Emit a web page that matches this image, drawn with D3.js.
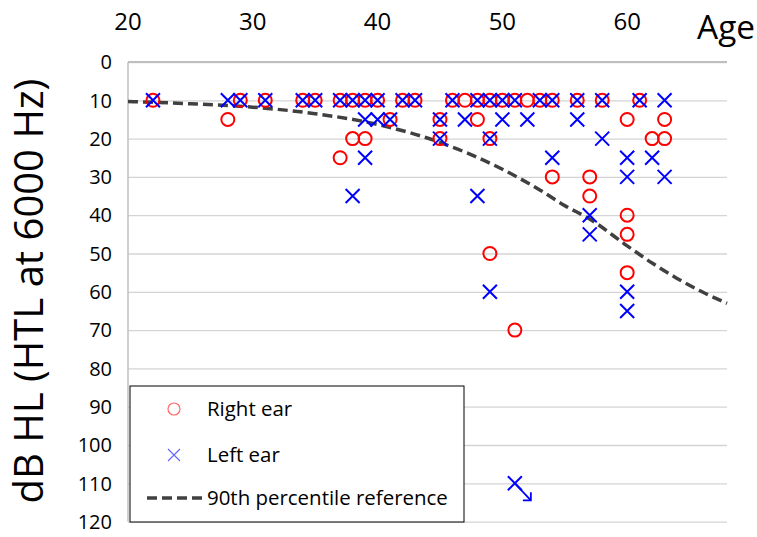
<!DOCTYPE html>
<html>
<head>
<meta charset="utf-8">
<script src="https://cdn.jsdelivr.net/npm/d3@7"></script>
<style>
  body { margin: 0; background: #fff; }
  svg text { font-family: "Open Sans", "Noto Sans", sans-serif; fill: #000; }
</style>
</head>
<body>
<svg id="chart" width="757" height="537"></svg>
<script>
// ages on the top axis, hearing levels down the side
var age_ticks = [20, 30, 40, 50, 60];
var db_ticks = [0, 10, 20, 30, 40, 50, 60, 70, 80, 90, 100, 110, 120];

// right ear (circles)
var right_age = [22, 28, 29, 31, 34, 35, 37, 37, 38, 38, 39, 39, 40, 41, 42, 43, 45, 45, 46, 47, 48, 48, 49, 49,
                 49, 50, 51, 51, 52, 53, 54, 54, 56, 57, 57, 58, 60, 60, 60, 60, 61, 62, 63, 63];
var right_db  = [10, 15, 10, 10, 10, 10, 10, 25, 10, 20, 10, 20, 10, 15, 10, 10, 15, 20, 10, 10, 10, 15, 10, 20,
                 50, 10, 10, 70, 10, 10, 10, 30, 10, 30, 35, 10, 15, 40, 45, 55, 10, 20, 15, 20];

// left ear (crosses)
var left_age = [22, 28, 29, 31, 34, 35, 37, 38, 38, 39, 39, 39, 40, 40, 41, 42, 43, 45, 45, 46, 47, 48, 48, 49,
                49, 49, 50, 50, 51, 51, 52, 53, 54, 54, 56, 56, 57, 57, 58, 58, 60, 60, 60, 60, 61, 62, 63, 63];
var left_db  = [10, 10, 10, 10, 10, 10, 10, 10, 35, 10, 15, 25, 10, 15, 15, 10, 10, 15, 20, 10, 15, 10, 35, 10,
                20, 60, 10, 15, 10, 110, 15, 10, 10, 25, 10, 15, 40, 45, 10, 20, 25, 30, 60, 65, 10, 25, 10, 30];

// 90th percentile reference curve
var ref_age = [20, 25, 30, 35, 40, 45, 50, 53, 55, 57, 60, 62, 64, 66, 68];
var ref_db  = [10.3, 10.9, 11.8, 13.5, 16.3, 21, 28, 33.4, 37.5, 41, 48, 52.5, 56.5, 60, 63];

var legend_labels = ["Right ear", "Left ear", "90th percentile reference"];

// point that runs off the scale, marked with an arrow
var offscale_age = 51;
var offscale_db = 110;

var svg = d3.select("#chart");
var x = d3.scaleLinear().domain([20, 68]).range([128, 727]);
var y = d3.scaleLinear().domain([0, 120]).range([62, 521.6]);

function fit_text(sel, target_width, start_size)
{
    sel.style("font-size", start_size + "px");
    var w = sel.node().getComputedTextLength();
    sel.style("font-size", (start_size * target_width / w) + "px");
}

// gridlines
svg.append("g").
    attr("transform", "translate(" + x.range()[0] + ",0)").
    call(d3.axisLeft(y).tickValues(db_ticks).tickSize(-(x.range()[1] - x.range()[0])).tickFormat("")).
    call(function(g)
    {
        g.select(".domain").remove();
        g.selectAll(".tick line").attr("stroke", "#d4d4d4").attr("stroke-width", 1.3);
    });

// axis lines
svg.append("line").
    attr("x1", x.range()[0]).attr("x2", x.range()[1]).
    attr("y1", y(0)).attr("y2", y(0)).
    attr("stroke", "#bfbfbf").attr("stroke-width", 2);
svg.append("line").
    attr("x1", x.range()[0]).attr("x2", x.range()[0]).
    attr("y1", y(0)).attr("y2", y(120)).
    attr("stroke", "#bfbfbf").attr("stroke-width", 1.5);

// tick labels
svg.append("g").selectAll("text").data(age_ticks).enter().append("text").
    attr("x", function(d) { return x(d); }).
    attr("y", 30).
    attr("text-anchor", "middle").
    style("font-size", "24px").
    text(function(d) { return d; });
svg.append("g").selectAll("text").data(db_ticks).enter().append("text").
    attr("x", 112).
    attr("y", function(d) { return y(d); }).
    attr("dy", "0.36em").
    attr("text-anchor", "end").
    style("font-size", "20px").
    text(function(d) { return d; });

// axis titles
var age_title = svg.append("text").
    attr("x", 755).
    attr("y", 39).
    attr("text-anchor", "end").
    text("Age");
fit_text(age_title, 58, 30);

var y_title = svg.append("text").
    attr("transform", "translate(43,291) rotate(-90)").
    attr("text-anchor", "middle").
    text("dB HL (HTL at 6000 Hz)");
fit_text(y_title, 425, 30);

// reference line
var ref_points = ref_age.map(function(a, i) { return [a, ref_db[i]]; });
svg.append("path").
    datum(ref_points).
    attr("fill", "none").
    attr("stroke", "#404040").
    attr("stroke-width", 3.5).
    attr("stroke-dasharray", "10,5").
    attr("d", d3.line().
        x(function(d) { return x(d[0]); }).
        y(function(d) { return y(d[1]); }).
        curve(d3.curveMonotoneX));

// right ear circles
var right_points = right_age.map(function(a, i) { return [a, right_db[i]]; });
svg.append("g").selectAll("circle").data(right_points).enter().append("circle").
    attr("cx", function(d) { return x(d[0]); }).
    attr("cy", function(d) { return y(d[1]); }).
    attr("r", 6.5).
    attr("fill", "none").
    attr("stroke", "#ff0000").
    attr("stroke-width", 2);

// left ear crosses
var cross = function(s) { return "M" + (-s) + "," + (-s) + "L" + s + "," + s + "M" + (-s) + "," + s + "L" + s + "," + (-s); };
var left_points = left_age.map(function(a, i) { return [a, left_db[i]]; });
svg.append("g").selectAll("path").data(left_points).enter().append("path").
    attr("transform", function(d) { return "translate(" + x(d[0]) + "," + y(d[1]) + ")"; }).
    attr("d", cross(7)).
    attr("fill", "none").
    attr("stroke", "#0000ff").
    attr("stroke-width", 2);

// arrow on the off-scale point
var ax = x(offscale_age), ay = y(offscale_db);
svg.append("path").
    attr("d", "M" + ax + "," + ay + "L" + (ax + 16) + "," + (ay + 17)).
    attr("stroke", "#0000ff").attr("stroke-width", 1.8).attr("fill", "none");
svg.append("path").
    attr("d", "M" + (ax + 16) + "," + (ay + 9) + "L" + (ax + 16) + "," + (ay + 17) + "L" + (ax + 8) + "," + (ay + 17)).
    attr("stroke", "#0000ff").attr("stroke-width", 1.8).attr("fill", "none");

// legend
var legend = svg.append("g").attr("transform", "translate(130,386)");
legend.append("rect").
    attr("width", 334).
    attr("height", 136).
    attr("fill", "#fff").
    attr("stroke", "#000").
    attr("stroke-width", 1);
var row_y = [23, 69, 112];
legend.append("circle").
    attr("cx", 44).attr("cy", row_y[0]).attr("r", 6).
    attr("fill", "none").attr("stroke", "#ff6666").attr("stroke-width", 1.2);
legend.append("path").
    attr("transform", "translate(44," + row_y[1] + ")").
    attr("d", cross(6)).
    attr("fill", "none").attr("stroke", "#6666ff").attr("stroke-width", 1.2);
legend.append("line").
    attr("x1", 17).attr("x2", 72).attr("y1", row_y[2]).attr("y2", row_y[2]).
    attr("stroke", "#404040").attr("stroke-width", 3.5).attr("stroke-dasharray", "10,5");
var legend_text = legend.selectAll("text.lbl").data(legend_labels).enter().append("text").
    attr("class", "lbl").
    attr("x", 77).
    attr("y", function(d, i) { return row_y[i]; }).
    attr("dy", "0.35em").
    text(function(d) { return d; });
var last_label = d3.select(legend_text.nodes()[2]);
fit_text(last_label, 241, 20);
legend_text.style("font-size", last_label.style("font-size"));
</script>
</body>
</html>
